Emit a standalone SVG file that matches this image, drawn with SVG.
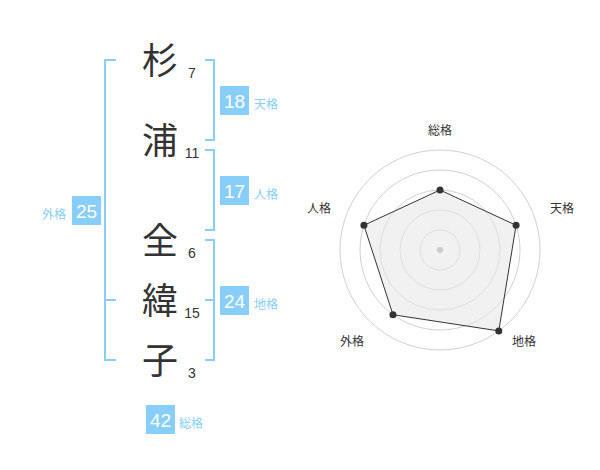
<svg xmlns="http://www.w3.org/2000/svg" width="600" height="470" viewBox="0 0 600 470">
<style>
.ch{font-family:"Noto Sans CJK JP","Noto Sans CJK SC",sans-serif;font-size:36px;fill:#333;text-anchor:middle}
.num{font-family:"Liberation Sans",Arial,sans-serif;font-size:14px;fill:#333;text-anchor:middle}
.br{fill:none;stroke:#87cefa;stroke-width:2}
.box{fill:#87cefa}
.bv{font-family:"Liberation Sans",Arial,sans-serif;font-size:19px;fill:#fff;text-anchor:middle}
.lb{font-family:"Noto Sans CJK JP","Noto Sans CJK SC",sans-serif;font-size:12px;fill:#87cefa}
.ring{fill:none;stroke:#d0d0d0;stroke-width:1}
.ax{font-family:"Noto Sans CJK JP","Noto Sans CJK SC",sans-serif;font-size:12px;fill:#333;text-anchor:middle}
</style>
<rect width="600" height="470" fill="#fff"/>
<g id="names">
<text class="ch" x="160" y="74">杉</text><text class="num" x="192" y="78">7</text>
<text class="ch" x="160" y="154">浦</text><text class="num" x="192" y="158">11</text>
<text class="ch" x="160" y="254">全</text><text class="num" x="192" y="258">6</text>
<text class="ch" x="160" y="314">緯</text><text class="num" x="192" y="318">15</text>
<text class="ch" x="160" y="374">子</text><text class="num" x="192" y="378">3</text>
</g>
<g id="connectors">
<path class="br" d="M116,60 H105 V360 H116 M105,300 H116"/>
<path class="br" d="M205,60 H214 V140 H205"/>
<path class="br" d="M205,150 H214 V230 H205"/>
<path class="br" d="M205,240 H214 V360 H205 M205,300 H214"/>
</g>
<g id="tenkaku"><rect class="box" x="220" y="86" width="29" height="29"/><text class="bv" x="234.5" y="108">18</text><text class="lb" x="254" y="109">天格</text></g>
<g id="jinkaku"><rect class="box" x="220" y="176" width="29" height="29"/><text class="bv" x="234.5" y="198">17</text><text class="lb" x="254" y="199">人格</text></g>
<g id="chikaku"><rect class="box" x="220" y="286" width="29" height="29"/><text class="bv" x="234.5" y="308">24</text><text class="lb" x="254" y="309">地格</text></g>
<g id="gaikaku"><rect class="box" x="72" y="196" width="29" height="29"/><text class="bv" x="86.5" y="218">25</text><text class="lb" x="66" y="219" text-anchor="end">外格</text></g>
<g id="soukaku"><rect class="box" x="146" y="405" width="29" height="29"/><text class="bv" x="160.5" y="427">42</text><text class="lb" x="179" y="428">総格</text></g>
<g id="radar">
<circle class="ring" cx="440" cy="250" r="20"/>
<circle class="ring" cx="440" cy="250" r="40"/>
<circle class="ring" cx="440" cy="250" r="60"/>
<circle class="ring" cx="440" cy="250" r="80"/>
<circle class="ring" cx="440" cy="250" r="100"/>
<polygon points="440,190 516.08,225.28 498.78,330.9 392.98,314.72 363.92,225.28" fill="#e8e8e8" fill-opacity="0.6" stroke="#333" stroke-width="1"/>
<circle cx="440" cy="250" r="3" fill="#ccc"/>
<g fill="#333">
<circle cx="440" cy="190" r="3.5"/>
<circle cx="516.08" cy="225.28" r="3.5"/>
<circle cx="498.78" cy="330.9" r="3.5"/>
<circle cx="392.98" cy="314.72" r="3.5"/>
<circle cx="363.92" cy="225.28" r="3.5"/>
</g>
<text class="ax" x="440" y="135">総格</text>
<text class="ax" x="562" y="213">天格</text>
<text class="ax" x="524" y="346">地格</text>
<text class="ax" x="352" y="346">外格</text>
<text class="ax" x="319" y="213">人格</text>
</g>
</svg>
